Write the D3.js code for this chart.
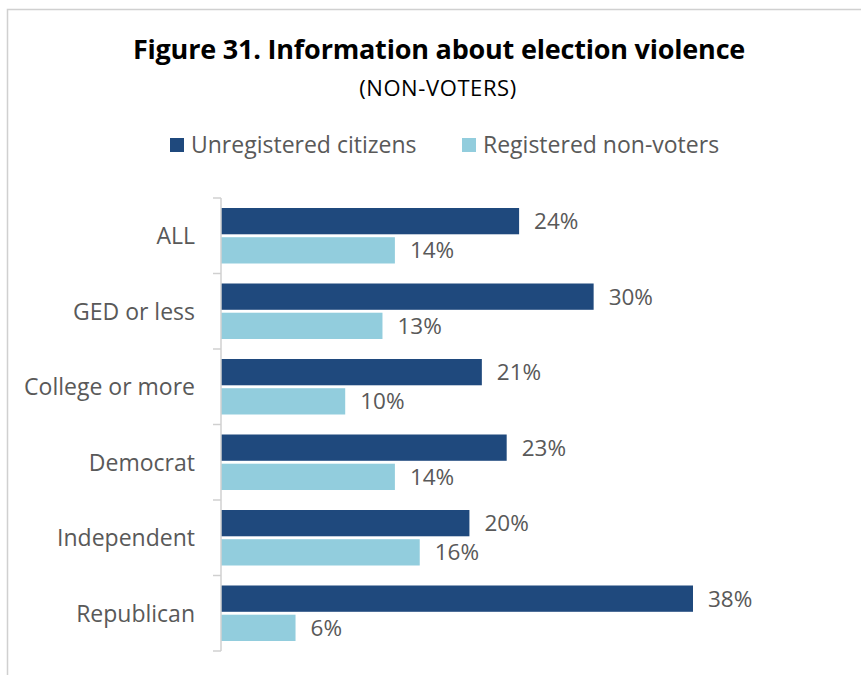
<!DOCTYPE html>
<html>
<head>
<meta charset="utf-8">
<script src="https://cdn.jsdelivr.net/npm/d3@7"></script>
<style>
  html, body { margin: 0; padding: 0; background: #fff; }
  svg { display: block; }
</style>
</head>
<body>
<svg id="chart" width="861" height="675"></svg>
<script>
// Survey groups and shares (%) who got information about election violence
const categories = ["ALL", "GED or less", "College or more", "Democrat", "Independent", "Republican"];
const seriesNames = ["Unregistered citizens", "Registered non-voters"];
const unregistered = [24, 30, 21, 23, 20, 38];
const registeredNonVoters = [14, 13, 10, 14, 16, 6];

const colors = ["#1f497d", "#92cddd"];
const textGray = "#595959";
const font = "'Open Sans', sans-serif";

const svg = d3.select("#chart");

// Outer frame
svg.append("path")
  .attr("d", "M7.5,675 V9.5 H861")
  .attr("fill", "none")
  .attr("stroke", "#d0d0d0")
  .attr("stroke-width", 1.5);

// Title block
svg.append("text")
  .attr("x", 439).attr("y", 59)
  .attr("text-anchor", "middle")
  .attr("font-family", font)
  .attr("font-weight", "bold")
  .attr("font-size", 27)
  .attr("letter-spacing", -0.2)
  .attr("fill", "#000")
  .text("Figure 31. Information about election violence");

svg.append("text")
  .attr("x", 438).attr("y", 96)
  .attr("text-anchor", "middle")
  .attr("font-family", font)
  .attr("font-size", 22)
  .attr("letter-spacing", 0.6)
  .attr("fill", "#000")
  .text("(NON-VOTERS)");

// Legend
const legendItems = [
  { name: seriesNames[0], color: colors[0], x: 170 },
  { name: seriesNames[1], color: colors[1], x: 462 }
];
const legend = svg.append("g");
legendItems.forEach(item => {
  legend.append("rect")
    .attr("x", item.x).attr("y", 138)
    .attr("width", 14).attr("height", 14)
    .attr("fill", item.color);
  legend.append("text")
    .attr("x", item.x + 21).attr("y", 153)
    .attr("font-family", font)
    .attr("font-size", 23)
    .attr("fill", textGray)
    .text(item.name);
});

// Plot geometry
const plotLeft = 221, plotTop = 198, plotBottom = 651;
const x = d3.scaleLinear().domain([0, 38]).range([plotLeft, plotLeft + 472]);
const y = d3.scaleBand().domain(categories).range([plotTop, plotBottom]);
const sub = d3.scaleBand().domain(seriesNames).range([10, y.bandwidth() - 10]).paddingInner(0.1);

const rows = categories.map((c, i) => ({
  category: c,
  values: [
    { series: seriesNames[0], value: unregistered[i], color: colors[0] },
    { series: seriesNames[1], value: registeredNonVoters[i], color: colors[1] }
  ]
}));

const groups = svg.append("g").selectAll("g")
  .data(rows).join("g")
  .attr("transform", d => `translate(0,${y(d.category)})`);

groups.selectAll("rect")
  .data(d => d.values).join("rect")
  .attr("x", x(0))
  .attr("y", d => sub(d.series))
  .attr("width", d => x(d.value) - x(0))
  .attr("height", sub.bandwidth())
  .attr("fill", d => d.color);

groups.selectAll("text.val")
  .data(d => d.values).join("text")
  .attr("class", "val")
  .attr("x", d => x(d.value) + 15)
  .attr("y", d => sub(d.series) + sub.bandwidth() / 2)
  .attr("dy", "0.36em")
  .attr("font-family", font)
  .attr("font-size", 22.5)
  .attr("fill", textGray)
  .text(d => d.value + "%");

// Category axis with ticks at band boundaries
const axis = svg.append("g");
axis.append("line")
  .attr("x1", plotLeft).attr("x2", plotLeft)
  .attr("y1", plotTop).attr("y2", plotBottom)
  .attr("stroke", "#d0d0d0").attr("stroke-width", 1.5);
const boundaries = categories.map(c => y(c)).concat([plotBottom]);
axis.selectAll("line.tick")
  .data(boundaries).join("line")
  .attr("class", "tick")
  .attr("x1", plotLeft - 8).attr("x2", plotLeft)
  .attr("y1", d => d).attr("y2", d => d)
  .attr("stroke", "#d0d0d0").attr("stroke-width", 1.5);

axis.selectAll("text.cat")
  .data(categories).join("text")
  .attr("class", "cat")
  .attr("x", 195)
  .attr("y", d => y(d) + y.bandwidth() / 2)
  .attr("dy", "0.36em")
  .attr("text-anchor", "end")
  .attr("font-family", font)
  .attr("font-size", 23)
  .attr("fill", textGray)
  .text(d => d);
</script>
</body>
</html>
